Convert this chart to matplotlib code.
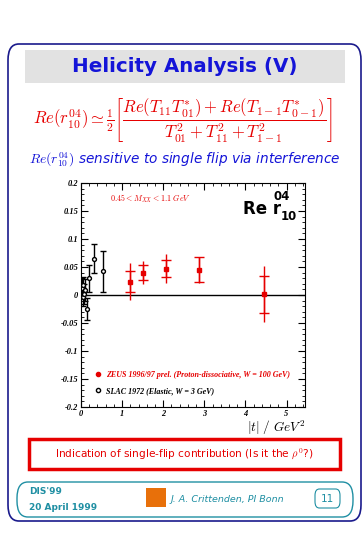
import numpy as np
import matplotlib
matplotlib.use("Agg")
import matplotlib.pyplot as plt
from matplotlib.patches import FancyBboxPatch, Rectangle
from matplotlib.lines import Line2D

plt.rcParams['mathtext.fontset'] = 'cm'

# ---------------------------------
# data
# ---------------------------------
zeus_t = [1.19, 1.50, 2.08, 2.87, 4.45]
zeus_r = [0.024, 0.040, 0.047, 0.045, 0.001]
zeus_stat = [0.019, 0.014, 0.015, 0.022, 0.033]
zeus_tot = [0.033, 0.021, 0.026, 0.023, 0.050]

slac_t = [0.02, 0.04, 0.06, 0.08, 0.10, 0.15, 0.20, 0.31, 0.54]
slac_r = [0.012, -0.004, 0.018, 0.002, 0.009, -0.025, 0.030, 0.065, 0.042]
slac_err = [0.018, 0.016, 0.014, 0.018, 0.020, 0.019, 0.024, 0.026, 0.036]

yticks = [-0.2, -0.15, -0.1, -0.05, 0, 0.05, 0.1, 0.15, 0.2]
ytick_labels = ["-0.2", "-0.15", "-0.1", "-0.05", "0", "0.05", "0.1", "0.15", "0.2"]
xticks = [0, 1, 2, 3, 4, 5]

navy = "#1a1a8c"
blue = "#1414d8"
red = "#e60000"
teal = "#1f8fa3"
serif = ["Liberation Serif", "DejaVu Serif"]

fig = plt.figure(figsize=(3.63, 5.35), dpi=100)
W, H = 363, 535

def fx(px):
    return px / W

def fy(py):
    return 1 - py / H

# ---------------------------------
# slide decorations
# ---------------------------------
frame = FancyBboxPatch((fx(8), fy(521)), fx(353), (521 - 44) / H,
                       boxstyle="round,pad=0,rounding_size=0.03",
                       transform=fig.transFigure, fill=False,
                       edgecolor=navy, linewidth=1.2)
fig.patches.append(frame)

fig.patches.append(Rectangle((fx(25), fy(83)), fx(320), 33 / H,
                             transform=fig.transFigure, facecolor="#e2e2e2",
                             edgecolor="none"))
fig.text(fx(185), fy(66), "Helicity Analysis (V)", color=blue, fontsize=14.3,
         fontweight="bold", ha="center", va="center")

fig.text(fx(183), fy(121),
         r"$Re(r^{04}_{10}) \simeq \frac{1}{2}\left[\dfrac{Re(T_{11}T^{*}_{01})+Re(T_{1-1}T^{*}_{0-1})}"
         r"{T^{2}_{01}+T^{2}_{11}+T^{2}_{1-1}}\right]$",
         color=red, fontsize=12, ha="center", va="center")

fig.text(fx(185), fy(160),
         r"$Re(r^{04}_{10})$" + " sensitive to single flip via interference",
         color=blue, fontsize=9.8, style="italic", ha="center", va="center")

# ---------------------------------
# the plot
# ---------------------------------
ax = fig.add_axes([fx(81), fy(407), 224 / W, 224 / H])
ax.set_xlim(0, 5.45)
ax.set_ylim(-0.2, 0.2)
ax.axhline(0, color="black", linewidth=1.0)

ax.errorbar(zeus_t, zeus_r, yerr=zeus_tot, fmt="none", ecolor=red,
            elinewidth=1.0, capsize=0)
ax.errorbar(zeus_t, zeus_r, yerr=zeus_stat, fmt="s", color=red, ms=3.5,
            ecolor=red, elinewidth=1.0, capsize=3.5, capthick=1.0)
ax.errorbar(slac_t, slac_r, yerr=slac_err, fmt="o", mfc="white", mec="black",
            ms=2.8, ecolor="black", elinewidth=1.0, capsize=2.5, capthick=1.0)

ax.set_xticks(xticks)
ax.set_xticklabels([str(t) for t in xticks])
ax.set_yticks(yticks)
ax.set_yticklabels(ytick_labels)
ax.minorticks_on()
ax.tick_params(which="both", direction="in", top=True, right=True)
ax.tick_params(which="major", length=5, labelsize=6, pad=2)
ax.tick_params(which="minor", length=2.5)
for lab in ax.get_xticklabels() + ax.get_yticklabels():
    lab.set_fontfamily(serif)
    lab.set_fontstyle("italic")
    lab.set_fontweight("bold")

ax.text(5.45, -0.237, r"$|t|\ /\ GeV^{2}$", fontsize=9.5, ha="right", va="center")
ax.text(0.7, 0.172, r"$0.45 < M_{XX} < 1.1\ GeV$", color=red, fontsize=5.8,
        ha="left", va="center")
ax.text(4.88, 0.153, "Re r", fontsize=12, fontweight="bold",
        ha="right", va="center", family="DejaVu Sans")
ax.text(4.88, 0.176, "04", fontsize=8.5, fontweight="bold",
        ha="center", va="center", family="DejaVu Sans")
ax.text(5.06, 0.141, "10", fontsize=8.5, fontweight="bold",
        ha="center", va="center", family="DejaVu Sans")

handles = [Line2D([], [], marker="o", ls="none", color=red, ms=3),
           Line2D([], [], marker="o", ls="none", mfc="white", mec="black", ms=3)]
labels = ["ZEUS 1996/97 prel. (Proton-dissociative, W = 100 GeV)",
          "SLAC 1972 (Elastic, W = 3 GeV)"]
leg = ax.legend(handles, labels, loc="lower left", bbox_to_anchor=(0.045, 0.035),
                frameon=False, handlelength=0.8, handletextpad=0.5,
                labelspacing=1.05, borderpad=0,
                prop={"family": serif, "style": "italic", "weight": "bold",
                      "size": 5.8})
for txt, c in zip(leg.get_texts(), [red, "black"]):
    txt.set_color(c)

# ---------------------------------
# bottom boxes
# ---------------------------------
fig.patches.append(Rectangle((fx(29), fy(469)), fx(311), 30 / H,
                             transform=fig.transFigure, fill=False,
                             edgecolor=red, linewidth=2.5))
fig.text(fx(184), fy(454), r"Indication of single-flip contribution (Is it the $\rho^{0}$?)",
         color=red, fontsize=7.6, ha="center", va="center")

footer = FancyBboxPatch((fx(17), fy(517)), fx(336), 35 / H,
                        boxstyle="round,pad=0,rounding_size=0.03",
                        transform=fig.transFigure, fill=False,
                        edgecolor=teal, linewidth=1.0)
fig.patches.append(footer)
fig.text(fx(29), fy(492), "DIS'99", color=teal, fontsize=6.5,
         fontweight="bold", ha="left", va="center")
fig.text(fx(29), fy(507), "20 April 1999", color=teal, fontsize=6.5,
         fontweight="bold", ha="left", va="center")
fig.patches.append(Rectangle((fx(146), fy(507)), fx(20), 19 / H,
                             transform=fig.transFigure, facecolor="#e8700a",
                             edgecolor="none"))
fig.text(fx(171), fy(499), "J. A. Crittenden, PI Bonn", color=teal,
         fontsize=6.8, style="italic", ha="left", va="center")
num_box = FancyBboxPatch((fx(315), fy(508)), fx(25), 19 / H,
                         boxstyle="round,pad=0,rounding_size=0.012",
                         transform=fig.transFigure, fill=False,
                         edgecolor=teal, linewidth=0.8)
fig.patches.append(num_box)
fig.text(fx(327.5), fy(498.5), "11", color=teal, fontsize=7.5,
         ha="center", va="center")

fig.savefig("out.png", dpi=100)
